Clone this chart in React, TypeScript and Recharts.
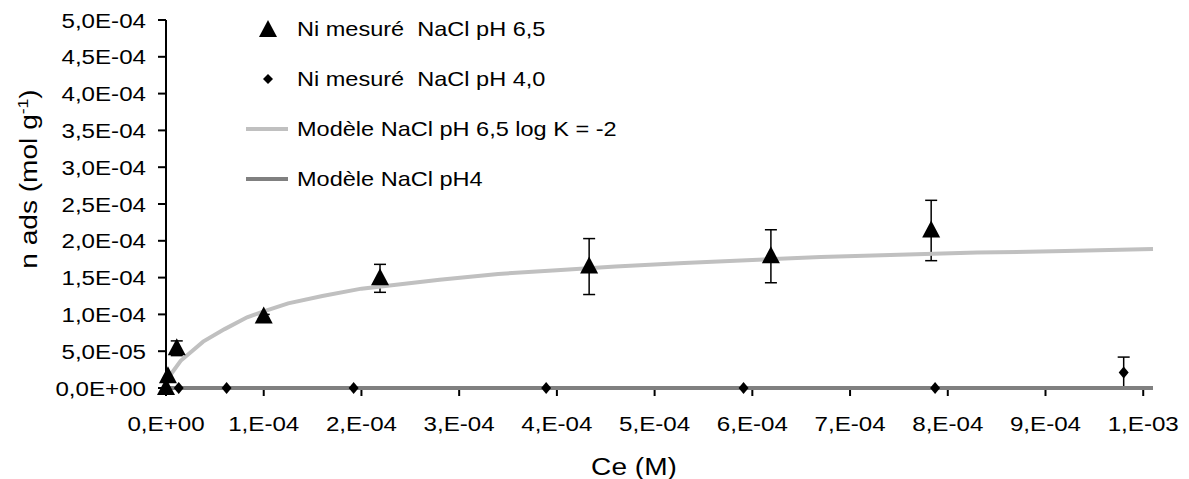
import React from 'react';
import { ComposedChart, Scatter, XAxis, YAxis, ErrorBar, Legend } from 'recharts';

// Ni mesuré NaCl pH 6,5
const ceHigh = [0, 2e-6, 1.1e-5, 1.0e-4, 2.19e-4, 4.33e-4, 6.19e-4, 7.83e-4];
const nadsHigh = [0, 1.6e-5, 5.4e-5, 9.7e-5, 1.49e-4, 1.65e-4, 1.79e-4, 2.14e-4];
const errHigh = [0, 0, 1.0e-5, 3e-6, 1.9e-5, 3.8e-5, 3.6e-5, 4.1e-5];

// Ni mesuré NaCl pH 4,0
const ceLow = [1.3e-5, 6.2e-5, 1.92e-4, 3.89e-4, 5.91e-4, 7.87e-4, 9.8e-4];
const nadsLow = [0, 0, 0, 0, 0, 0, 2.1e-5];
const errLow = [0, 0, 0, 0, 0, 0, 2.1e-5];

// Modèle NaCl pH 6,5 log K = -2
const ceModelHigh = [0, 3e-6, 1.5e-5, 3.8e-5, 6e-5, 8.3e-5, 1.0e-4, 1.25e-4, 1.6e-4, 2.0e-4, 2.4e-4, 2.8e-4, 3.4e-4, 4.0e-4, 4.6e-4, 5.3e-4, 6.0e-4, 6.7e-4, 7.5e-4, 8.3e-4, 9.2e-4, 1.01e-3];
const nadsModelHigh = [0, 1.5e-5, 3.7e-5, 6.3e-5, 8.0e-5, 9.6e-5, 1.04e-4, 1.15e-4, 1.25e-4, 1.35e-4, 1.41e-4, 1.47e-4, 1.55e-4, 1.6e-4, 1.65e-4, 1.7e-4, 1.74e-4, 1.78e-4, 1.81e-4, 1.84e-4, 1.86e-4, 1.89e-4];

// Modèle NaCl pH4
const ceModelLow = [0, 1.01e-3];
const nadsModelLow = [0, 0];

const ceTicks = [0, 1e-4, 2e-4, 3e-4, 4e-4, 5e-4, 6e-4, 7e-4, 8e-4, 9e-4, 1e-3];
const nadsTicks = [0, 5e-5, 1e-4, 1.5e-4, 2e-4, 2.5e-4, 3e-4, 3.5e-4, 4e-4, 4.5e-4, 5e-4];

const legendNames = [
  'Ni mesuré  NaCl pH 6,5',
  'Ni mesuré  NaCl pH 4,0',
  'Modèle NaCl pH 6,5 log K = -2',
  'Modèle NaCl pH4',
];

const FONT = '"Liberation Sans", Arial, sans-serif';
const LIGHT = '#c0c0c0';
const DARK = '#808080';
const STRETCH = 1.15; // the original figure is a bit wider than tall

const zip = (xs: number[], ys: number[], errs?: number[]) =>
  xs.map((x, i) => ({ x, y: ys[i], err: errs ? errs[i] : 0 }));

const sci = (v: number, digits: number) => {
  const [m, e] = v.toExponential(digits).split('e');
  const n = Number(e);
  const exp = (n < 0 ? '-' : '+') + String(Math.abs(n)).padStart(2, '0');
  return (digits === 0 ? m + ',' : m.replace('.', ',')) + 'E' + exp;
};

const Triangle = (p: any) => (
  <polygon points={`${p.cx},${p.cy - 10} ${p.cx + 9},${p.cy + 7} ${p.cx - 9},${p.cy + 7}`} fill="#000" />
);
const Diamond = (p: any) => (
  <polygon points={`${p.cx},${p.cy - 6} ${p.cx + 5},${p.cy} ${p.cx},${p.cy + 6} ${p.cx - 5},${p.cy}`} fill="#000" />
);
const NoShape = () => <g />;

const XTick = (p: any) => (
  <g transform={`translate(${p.x},${p.y})`}>
    <text transform={`scale(${STRETCH},1)`} textAnchor="middle" dy="0.71em" fontSize={21} fontFamily={FONT} fill="#000">
      {sci(p.payload.value, 0)}
    </text>
  </g>
);

const YTick = (p: any) => (
  <g transform={`translate(${p.x},${p.y})`}>
    <text transform={`scale(${STRETCH},1)`} textAnchor="end" dy="0.36em" fontSize={21} fontFamily={FONT} fill="#000">
      {sci(p.payload.value, 1)}
    </text>
  </g>
);

const YTitle = () => (
  <g transform="translate(28,179) rotate(-90) scale(1.17,1)">
    <text textAnchor="middle" dy="0.36em" fontSize={24} fontFamily={FONT} fill="#000">
      n ads (mol g<tspan dy={-9} fontSize={15}>-1</tspan><tspan dy={9}>)</tspan>
    </text>
  </g>
);

const XTitle = () => (
  <g transform={`translate(634,466) scale(1.17,1)`}>
    <text textAnchor="middle" dy="0.36em" fontSize={24} fontFamily={FONT} fill="#000">Ce (M)</text>
  </g>
);

const LegendBox = () => {
  const marks = [
    <svg width={44} height={24}><polygon points="22,3 31,20 13,20" fill="#000" /></svg>,
    <svg width={44} height={24}><polygon points="22,7 27,12 22,17 17,12" fill="#000" /></svg>,
    <svg width={44} height={24}><line x1={0} y1={12} x2={42} y2={12} stroke={LIGHT} strokeWidth={4} /></svg>,
    <svg width={44} height={24}><line x1={0} y1={12} x2={42} y2={12} stroke={DARK} strokeWidth={4} /></svg>,
  ];
  return (
    <div style={{ fontFamily: FONT, fontSize: 21, color: '#000' }}>
      {legendNames.map((name, i) => (
        <div key={name} style={{ display: 'flex', alignItems: 'center', height: 50 }}>
          {marks[i]}
          <span style={{ whiteSpace: 'pre', marginLeft: 7, display: 'inline-block', transform: 'scaleX(1.12)', transformOrigin: 'left center' }}>
            {name}
          </span>
        </div>
      ))}
    </div>
  );
};

export default function App() {
  return (
    <div style={{ position: 'absolute', left: 0, top: 0, background: '#fff' }}>
      <ComposedChart width={1189} height={479} margin={{ top: 20, right: 36, bottom: 11, left: 66 }}>
        <XAxis type="number" dataKey="x" domain={[0, 0.00101]} ticks={ceTicks}
          height={80} tickSize={8} tickMargin={20}
          axisLine={{ stroke: '#000', strokeWidth: 2 }} tickLine={{ stroke: '#000', strokeWidth: 2 }}
          tick={<XTick />} label={<XTitle />} />
        <YAxis type="number" dataKey="y" domain={[0, 0.0005]} ticks={nadsTicks}
          width={100} tickSize={8} tickMargin={12}
          axisLine={{ stroke: '#000', strokeWidth: 2 }} tickLine={{ stroke: '#000', strokeWidth: 2 }}
          tick={<YTick />} label={<YTitle />} />
        <Legend layout="vertical" align="center" verticalAlign="middle" content={<LegendBox />}
          wrapperStyle={{ top: 4, left: 246, width: 440, height: 210 }} />
        <Scatter name={legendNames[3]} data={zip(ceModelLow, nadsModelLow)} shape={NoShape}
          line={{ stroke: DARK, strokeWidth: 4 }} lineType="joint" isAnimationActive={false} />
        <Scatter name={legendNames[2]} data={zip(ceModelHigh, nadsModelHigh)} shape={NoShape}
          line={{ stroke: LIGHT, strokeWidth: 4 }} lineType="joint" isAnimationActive={false} />
        <Scatter name={legendNames[1]} data={zip(ceLow, nadsLow, errLow)} shape={Diamond} isAnimationActive={false}>
          <ErrorBar dataKey="err" direction="y" width={6} stroke="#000" strokeWidth={1.5} isAnimationActive={false} />
        </Scatter>
        <Scatter name={legendNames[0]} data={zip(ceHigh, nadsHigh, errHigh)} shape={Triangle} isAnimationActive={false}>
          <ErrorBar dataKey="err" direction="y" width={6} stroke="#000" strokeWidth={1.5} isAnimationActive={false} />
        </Scatter>
      </ComposedChart>
    </div>
  );
}
